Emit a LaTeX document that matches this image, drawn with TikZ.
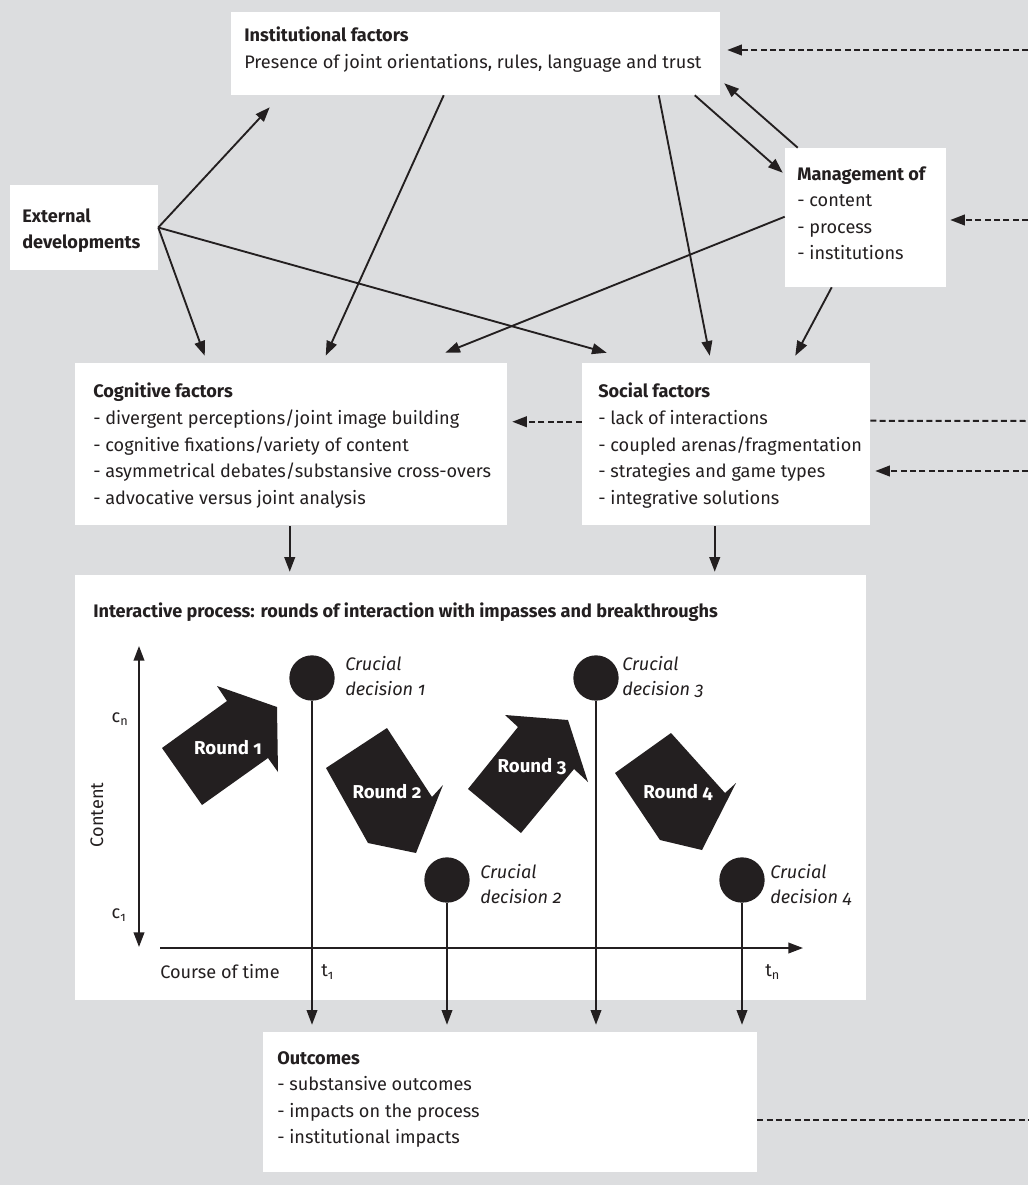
\documentclass[tikz,border=0pt]{standalone}
\usepackage{fontspec}
\setmainfont{Fira Sans}[Numbers=OldStyle]
\usetikzlibrary{arrows.meta,calc,fit}
\definecolor{bg}{HTML}{DCDDDF}
\definecolor{ink}{HTML}{231F20}
\begin{document}
\begin{tikzpicture}[x=0.75pt,y=-0.75pt,
  box/.style={fill=white,draw=none,inner sep=0pt,rectangle},
  txt/.style={anchor=north west,align=left,inner sep=0pt,text=ink,font=\fontsize{13.6}{19.9}\selectfont},
  lbl/.style={anchor=north west,align=left,inner sep=0pt,text=ink,font=\fontsize{13.6}{18.75}\selectfont\itshape},
  arr/.style={draw=ink,line width=1.4pt,-{Triangle[length=11pt,width=8pt]}},
  thinarr/.style={draw=ink,line width=1.1pt,-{Triangle[length=11pt,width=8pt]}},
  dsh/.style={draw=ink,line width=1.5pt,dash pattern=on 4.5pt off 2.5pt},
  dsharr/.style={dsh,-{Triangle[length=11pt,width=8pt]}},
  circ/.style={circle,fill=ink,draw=none,minimum size=34pt,inner sep=0pt},
  rnd/.style={text=white,font=\fontsize{14}{16}\selectfont\bfseries,inner sep=0pt}
]
\useasboundingbox[fill=bg] (0,0) rectangle (1028,1185);

% boxes
\node[box,fit={(231,12) (720,95)}] (inst) {};
\node[box,fit={(10,185) (158,270)}] (ext) {};
\node[box,fit={(785,148) (946,287)}] (mgmt) {};
\node[box,fit={(75,363) (507,525)}] (cog) {};
\node[box,fit={(582,363) (870,525)}] (soc) {};
\node[box,fit={(75,575) (866,1000)}] (int) {};
\node[box,fit={(263,1032) (757,1172)}] (out) {};

% texts
\node[txt] (instT) at (244,27) {\textbf{Institutional factors}\\Presence of joint orientations, rules, language and trust};
\node[txt] (extT) at (22,208) {\textbf{External}\\\textbf{developments}};
\node[txt] (mgmtT) at (797,166) {\textbf{Management of}\\- content\\- process\\- institutions};
\node[txt] (cogT) at (93,383) {\textbf{Cognitive factors}\\- divergent perceptions/joint image building\\- cognitive fixations/variety of content\\- asymmetrical debates/substansive cross-overs\\- advocative versus joint analysis};
\node[txt] (socT) at (598,383) {\textbf{Social factors}\\- lack of interactions\\- coupled arenas/fragmentation\\- strategies and game types\\- integrative solutions};
\node[txt] (intT) at (93,603) {\textbf{Interactive process: rounds of interaction with impasses and breakthroughs}};
\node[txt] (outT) at (277,1051) {\textbf{Outcomes}\\- substansive outcomes\\- impacts on the process\\- institutional impacts};

% connectors between boxes
\draw[arr] (ext.east) -- ($(inst.south west)+(39,12)$);
\draw[arr] (ext.east) -- ($(cog.north west)+(130,-7)$);
\draw[arr] (ext.east) -- ($(soc.north west)+(25,-10)$);
\draw[arr] ($(inst.south west)+(213,0)$) -- ($(cog.north west)+(251,-7)$);
\draw[arr] ($(inst.south west)+(428,0)$) -- ($(soc.north west)+(128,-7)$);
\draw[arr] ($(inst.south west)+(464,0)$) -- ($(mgmt.north west)+(-2,25)$);
\draw[arr] ($(mgmt.north west)+(13,0)$) -- ($(inst.south east)+(4,-12)$);
\draw[arr] ($(mgmt.north west)+(0,69)$) -- ($(cog.north east)+(-62,-10)$);
\draw[arr] ($(mgmt.south west)+(47,0)$) -- ($(soc.north east)+(-75,-7)$);
\draw[arr] ($(cog.south west)+(215,1)$) coordinate (c10) -- ($(c10 |- int.north)+(0,-3)$);
\draw[arr] ($(soc.south west)+(133,1)$) coordinate (c11) -- ($(c11 |- int.north)+(0,-3)$);

% dashed feedback lines
\coordinate (r1) at (1028,50);
\coordinate (r2) at (1028,220);
\coordinate (r3) at (1028,421);
\coordinate (r4) at (1028,471);
\coordinate (r5) at (1028,1120);
\draw[dsharr] (r1) -- ($(inst.east |- r1)+(7,0)$);
\draw[dsharr] (r2) -- ($(mgmt.east |- r2)+(4,0)$);
\draw[dsh] ($(soc.north east)+(0,58)$) -- (r3);
\draw[dsharr] (r4) -- ($(soc.east |- r4)+(5,0)$);
\draw[dsharr] ($(soc.north west)+(0,59)$) coordinate (s5) -- ($(cog.east |- s5)+(5,0)$);
\draw[dsh] (out.east |- r5) -- (r5);

% axes
\coordinate (ytop) at (139,646);
\coordinate (ybot) at (139,947);
\coordinate (xl) at (160,948);
\coordinate (xr) at (803,948);
\draw[draw=ink,line width=1.3pt,{Triangle[length=11pt,width=8pt]}-{Triangle[length=11pt,width=8pt]}] (ytop) -- (ybot);
\draw[thinarr,line width=1.3pt] (xl) -- (xr);
\node[txt,anchor=center] (cn) at (120,719) {c\textsubscript{n}};
\node[txt,anchor=center] (c1) at (119,915) {c\textsubscript{1}};
\node[txt,anchor=center,rotate=90] (content) at (97,815) {Content};
\node[txt,anchor=west] (course) at (160,972) {Course of time};
\node[txt,anchor=west] (t1) at (321,972) {t\textsubscript{1}};
\node[txt,anchor=west] (tn) at (765,972) {t\textsubscript{n}};

% decisions
\node[circ] (d1) at (312,678) {};
\node[circ] (d2) at (447,880) {};
\node[circ] (d3) at (596,678) {};
\node[circ] (d4) at (742,880) {};
\node[lbl] (d1T) at (345,656) {Crucial\\decision 1};
\node[lbl] (d2T) at (480,864) {Crucial\\decision 2};
\node[lbl] (d3T) at (622,656) {Crucial\\decision 3};
\node[lbl] (d4T) at (770,864) {Crucial\\decision 4};
\foreach \d in {d1,d2,d3,d4}{
  \draw[thinarr] (\d.south) -- ($(\d.south |- out.north)+(0,-7)$);
}

% round arrows
\fill[ink] (162,748) -- (227,701) -- (217,686) -- (277,707) -- (278,772) -- (268,758) -- (202,805) -- cycle;
\fill[ink] (387,728) -- (432,797) -- (443,785) -- (416,853) -- (368,843) -- (326,768) -- cycle;
\fill[ink] (468,789) -- (518,727) -- (505,715) -- (568,720) -- (588,782) -- (574,769) -- (521,833) -- cycle;
\fill[ink] (671,733) -- (725,793) -- (736,783) -- (702,850) -- (660,840) -- (615,773) -- cycle;
\node[rnd] (R1) at (228,748) {Round 1};
\node[rnd] (R2) at (387,792) {Round 2};
\node[rnd] (R3) at (532,767) {Round 3};
\node[rnd] (R4) at (678,792) {Round 4};
\end{tikzpicture}
\end{document}
